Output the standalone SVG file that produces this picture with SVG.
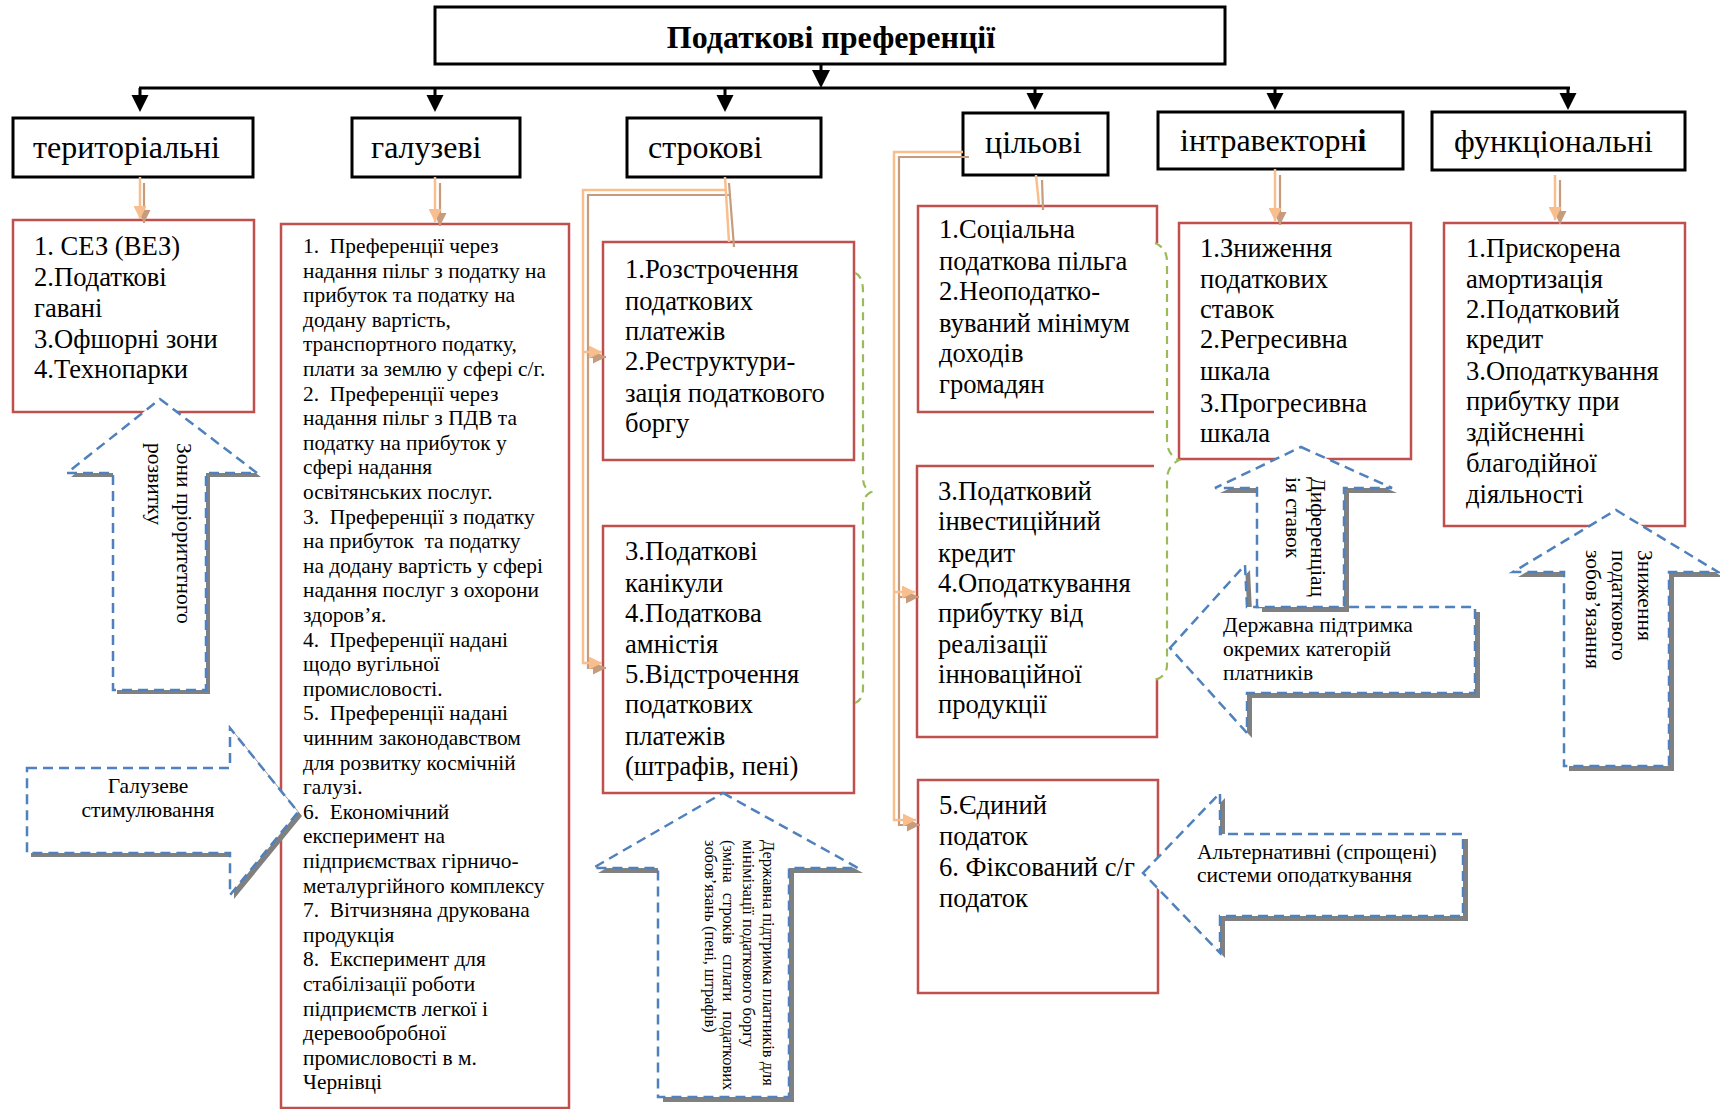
<svg xmlns="http://www.w3.org/2000/svg" width="1720" height="1109" viewBox="0 0 1720 1109">
<style>
text{font-family:"Liberation Serif","Times New Roman",serif;fill:#000}
.hdr{fill:#fff;stroke:#000;stroke-width:3}
.cat{font-size:32px}
.red{fill:#fff;stroke:#C0504D;stroke-width:2.5}
.redp{fill:none;stroke:#C0504D;stroke-width:2.5}
.ct{font-size:26.6px}
.gt{font-size:21.4px}
.lo{fill:none;stroke:#F9BE8E;stroke-width:2.5}
.tn{fill:none;stroke:#C69C7C;stroke-width:2.2}
.blk{fill:none;stroke:#000;stroke-width:3}
.bh{fill:#000}
.brace{fill:none;stroke:#9BBB59;stroke-width:2.2;stroke-dasharray:8,6}
.sh{fill:#808080}
.ba{fill:#fff;stroke:#4F81BD;stroke-width:2.5;stroke-dasharray:10,6}
.at{font-size:21.5px}
.st{font-size:16.4px}
</style>
<defs>
<marker id="mL" viewBox="0 0 10 10" refX="10" refY="5" markerWidth="14" markerHeight="13" markerUnits="userSpaceOnUse" orient="auto"><path d="M0,0L10,5L0,10z" fill="#F9BE8E"/></marker>
<marker id="mT" viewBox="0 0 10 10" refX="10" refY="5" markerWidth="14" markerHeight="13" markerUnits="userSpaceOnUse" orient="auto"><path d="M0,0L10,5L0,10z" fill="#C69C7C"/></marker>
<polygon id="pA" points="160,399 257,473 206,473 206,690 113,690 113,473 67,473"/>
<polygon id="pB" points="27,768 230,768 230,728 298,812 230,895 230,853 27,853"/>
<polygon id="pC" points="723,793 858,868 789,868 789,1097 658,1097 658,868 593,868"/>
<polygon id="pD" points="1301,447 1392,488 1344,488 1344,607 1257,607 1257,488 1215,488"/>
<polygon id="pE" points="1170,648 1245,565 1247,607 1475,607 1475,693 1247,693 1247,733"/>
<polygon id="pF" points="1143,873 1220,793 1220,834 1463,834 1463,916 1220,916 1220,953"/>
<polygon id="pG" points="1616,510 1718,572 1669,572 1669,766 1564,766 1564,572 1513,572"/>
</defs>
<rect width="1720" height="1109" fill="#fff"/>

<g id="root">
<rect class="hdr" x="435" y="7" width="790" height="57"/>
<text x="831" y="48" text-anchor="middle" font-size="32" font-weight="bold">Податкові преференції</text>
</g>

<g id="cat-terr"><rect class="hdr" x="13" y="118" width="240" height="59"/><text class="cat" x="33" y="158">територіальні</text></g>
<g id="cat-galuz"><rect class="hdr" x="352" y="118" width="168" height="59"/><text class="cat" x="371" y="158">галузеві</text></g>
<g id="cat-strok"><rect class="hdr" x="627" y="118" width="194" height="59"/><text class="cat" x="648" y="158">строкові</text></g>
<g id="cat-tsil"><rect class="hdr" x="963" y="113" width="145" height="62"/><text class="cat" x="985" y="153">цільові</text></g>
<g id="cat-intra"><rect class="hdr" x="1158" y="112" width="245" height="57"/><text class="cat" x="1180" y="151">інтравекторн<tspan font-weight="bold">і</tspan></text></g>
<g id="cat-func"><rect class="hdr" x="1432" y="112" width="253" height="58"/><text class="cat" x="1454" y="152">функціональні</text></g>

<g id="box-terr"><rect class="red" x="13" y="220" width="241" height="192"/>
<text class="ct"><tspan x="34" y="255">1. СЕЗ (ВЕЗ)</tspan><tspan x="34" y="286">2.Податкові</tspan><tspan x="34" y="317">гавані</tspan><tspan x="34" y="348">3.Офшорні зони</tspan><tspan x="34" y="378">4.Технопарки</tspan></text></g>

<g id="box-galuz"><rect class="red" x="281" y="224" width="288" height="884"/>
<text class="gt" xml:space="preserve"><tspan x="303" y="253">1.  Преференції через</tspan><tspan x="303" dy="24.6">надання пільг з податку на</tspan><tspan x="303" dy="24.6">прибуток та податку на</tspan><tspan x="303" dy="24.6">додану вартість,</tspan><tspan x="303" dy="24.6">транспортного податку,</tspan><tspan x="303" dy="24.6">плати за землю у сфері с/г.</tspan><tspan x="303" dy="24.6">2.  Преференції через</tspan><tspan x="303" dy="24.6">надання пільг з ПДВ та</tspan><tspan x="303" dy="24.6">податку на прибуток у</tspan><tspan x="303" dy="24.6">сфері надання</tspan><tspan x="303" dy="24.6">освітянських послуг.</tspan><tspan x="303" dy="24.6">3.  Преференції з податку</tspan><tspan x="303" dy="24.6">на прибуток  та податку</tspan><tspan x="303" dy="24.6">на додану вартість у сфері</tspan><tspan x="303" dy="24.6">надання послуг з охорони</tspan><tspan x="303" dy="24.6">здоров’я.</tspan><tspan x="303" dy="24.6">4.  Преференції надані</tspan><tspan x="303" dy="24.6">щодо вугільної</tspan><tspan x="303" dy="24.6">промисловості.</tspan><tspan x="303" dy="24.6">5.  Преференції надані</tspan><tspan x="303" dy="24.6">чинним законодавством</tspan><tspan x="303" dy="24.6">для розвитку космічній</tspan><tspan x="303" dy="24.6">галузі.</tspan><tspan x="303" dy="24.6">6.  Економічний</tspan><tspan x="303" dy="24.6">експеримент на</tspan><tspan x="303" dy="24.6">підприємствах гірничо-</tspan><tspan x="303" dy="24.6">металургійного комплексу</tspan><tspan x="303" dy="24.6">7.  Вітчизняна друкована</tspan><tspan x="303" dy="24.6">продукція</tspan><tspan x="303" dy="24.6">8.  Експеримент для</tspan><tspan x="303" dy="24.6">стабілізації роботи</tspan><tspan x="303" dy="24.6">підприємств легкої і</tspan><tspan x="303" dy="24.6">деревообробної</tspan><tspan x="303" dy="24.6">промисловості в м.</tspan><tspan x="303" dy="24.6">Чернівці</tspan></text></g>

<g id="box-strok1"><rect class="red" x="603" y="242" width="251" height="218"/>
<text class="ct"><tspan x="625" y="278">1.Розстрочення</tspan><tspan x="625" y="310">податкових</tspan><tspan x="625" y="340">платежів</tspan><tspan x="625" y="370">2.Реструктури-</tspan><tspan x="625" y="402">зація податкового</tspan><tspan x="625" y="432">боргу</tspan></text></g>

<g id="box-strok2"><rect class="red" x="603" y="526" width="251" height="267"/>
<text class="ct"><tspan x="625" y="560">3.Податкові</tspan><tspan x="625" y="592">канікули</tspan><tspan x="625" y="622">4.Податкова</tspan><tspan x="625" y="653">амністія</tspan><tspan x="625" y="683">5.Відстрочення</tspan><tspan x="625" y="713">податкових</tspan><tspan x="625" y="745">платежів</tspan><tspan x="625" y="775">(штрафів, пені)</tspan></text></g>

<g id="box-tsil1"><rect x="918" y="206" width="239" height="206" fill="#fff"/><path class="redp" d="M1154,412H918V206H1157V243"/>
<text class="ct"><tspan x="939" y="238">1.Соціальна</tspan><tspan x="939" y="270">податкова пільга</tspan><tspan x="939" y="300">2.Неоподатко-</tspan><tspan x="939" y="332">вуваний мінімум</tspan><tspan x="939" y="362">доходів</tspan><tspan x="939" y="393">громадян</tspan></text></g>

<g id="box-tsil2"><rect x="917" y="466" width="240" height="271" fill="#fff"/><path class="redp" d="M1154,466H917V737H1157V678"/>
<text class="ct"><tspan x="938" y="500">3.Податковий</tspan><tspan x="938" y="530">інвестиційний</tspan><tspan x="938" y="562">кредит</tspan><tspan x="938" y="592">4.Оподаткування</tspan><tspan x="938" y="622">прибутку від</tspan><tspan x="938" y="653">реалізації</tspan><tspan x="938" y="683">інноваційної</tspan><tspan x="938" y="713">продукції</tspan></text></g>

<g id="box-tsil3"><rect class="red" x="918" y="780" width="240" height="213"/>
<text class="ct"><tspan x="939" y="814">5.Єдиний</tspan><tspan x="939" y="845">податок</tspan><tspan x="939" y="876">6. Фіксований с/г</tspan><tspan x="939" y="907">податок</tspan></text></g>

<g id="box-intra"><rect class="red" x="1179" y="223" width="232" height="236"/>
<text class="ct"><tspan x="1200" y="257">1.Зниження</tspan><tspan x="1200" y="288">податкових</tspan><tspan x="1200" y="318">ставок</tspan><tspan x="1200" y="348">2.Регресивна</tspan><tspan x="1200" y="380">шкала</tspan><tspan x="1200" y="412">3.Прогресивна</tspan><tspan x="1200" y="442">шкала</tspan></text></g>

<g id="box-func"><rect class="red" x="1444" y="223" width="241" height="303"/>
<text class="ct"><tspan x="1466" y="257">1.Прискорена</tspan><tspan x="1466" y="288">амортизація</tspan><tspan x="1466" y="318">2.Податковий</tspan><tspan x="1466" y="348">кредит</tspan><tspan x="1466" y="380">3.Оподаткування</tspan><tspan x="1466" y="410">прибутку при</tspan><tspan x="1466" y="441">здійсненні</tspan><tspan x="1466" y="472">благодійної</tspan><tspan x="1466" y="503">діяльності</tspan></text></g>

<g id="connectors">
<path class="blk" d="M821,64V70M139,88H1570M140,88V95M435,88V95M725,88V95M1035,88V93M1275,88V93M1568,88V93"/>
<polygon class="bh" points="812,70 830,70 821,88"/>
<polygon class="bh" points="131.5,95 148.5,95 140,112"/>
<polygon class="bh" points="426.5,95 443.5,95 435,112"/>
<polygon class="bh" points="716.5,95 733.5,95 725,112"/>
<polygon class="bh" points="1026.5,93 1043.5,93 1035,110"/>
<polygon class="bh" points="1266.5,93 1283.5,93 1275,110"/>
<polygon class="bh" points="1559.5,93 1576.5,93 1568,110"/>

<path class="tn" d="M144,183V223" marker-end="url(#mT)"/>
<path class="lo" d="M140,177V219" marker-end="url(#mL)"/>
<path class="tn" d="M440,183V226" marker-end="url(#mT)"/>
<path class="lo" d="M435,177V222" marker-end="url(#mL)"/>
<path class="tn" d="M729,183L734,247M729,195H588V668H606" marker-end="url(#mT)"/>
<path class="tn" d="M588,357H606" marker-end="url(#mT)"/>
<path class="lo" d="M725,177L729,242M726,190H583V663H602" marker-end="url(#mL)"/>
<path class="lo" d="M583,352H602" marker-end="url(#mL)"/>
<path class="tn" d="M969,157H899V825H920" marker-end="url(#mT)"/>
<path class="tn" d="M899,597H919" marker-end="url(#mT)"/>
<path class="lo" d="M963,152H894V820H916" marker-end="url(#mL)"/>
<path class="lo" d="M894,592H915" marker-end="url(#mL)"/>
<path class="tn" d="M1042,180L1043,210"/>
<path class="lo" d="M1036,175L1039,205"/>
<path class="tn" d="M1280,175V225" marker-end="url(#mT)"/>
<path class="lo" d="M1275,169V221" marker-end="url(#mL)"/>
<path class="tn" d="M1560,180V224" marker-end="url(#mT)"/>
<path class="lo" d="M1555,175V220" marker-end="url(#mL)"/>
<path class="brace" d="M855,273Q863,276 863,292V478Q863,488 871,492Q863,496 863,506V688Q863,700 855,703"/>
<path class="brace" d="M1155,243Q1167,248 1167,262V440Q1167,455 1179,460Q1167,466 1167,480V665Q1167,676 1155,680"/>
</g>

<g id="arrow-zones">
<use class="sh" href="#pA" transform="translate(4,4)"/><use class="ba" href="#pA"/>
<text class="at" transform="translate(177,443) rotate(90)">Зони пріоритетного</text>
<text class="at" transform="translate(148,443) rotate(90)">розвитку</text>
</g>
<g id="arrow-galuz">
<use class="sh" href="#pB" transform="translate(4,4)"/><use class="ba" href="#pB"/>
<text class="at" text-anchor="middle"><tspan x="148" y="793">Галузеве</tspan><tspan x="148" y="817">стимулювання</tspan></text>
</g>
<g id="arrow-strok">
<use class="sh" href="#pC" transform="translate(5,5)"/><use class="ba" href="#pC"/>
<text class="st" transform="translate(763,840) rotate(90)">Державна підтримка платників для</text>
<text class="st" transform="translate(743,840) rotate(90)">мінімізації податкового боргу</text>
<text class="st" transform="translate(723,840) rotate(90)" word-spacing="6">(зміна строків сплати податкових</text>
<text class="st" transform="translate(705,840) rotate(90)">зобов’язань (пені, штрафів)</text>
</g>
<g id="arrow-support">
<use class="sh" href="#pE" transform="translate(5,5)"/><use class="ba" href="#pE"/>
<text class="at"><tspan x="1223" y="632">Державна підтримка</tspan><tspan x="1223" y="656">окремих категорій</tspan><tspan x="1223" y="680">платників</tspan></text>
</g>
<g id="arrow-diff">
<use class="sh" href="#pD" transform="translate(5,5)"/><use class="ba" href="#pD"/>
<text class="at" transform="translate(1311,477) rotate(90)">Диференціац</text>
<text class="at" transform="translate(1286,477) rotate(90)">ія ставок</text>
</g>
<g id="arrow-alt">
<use class="sh" href="#pF" transform="translate(5,5)"/><use class="ba" href="#pF"/>
<text class="at"><tspan x="1197" y="859">Альтернативні (спрощені)</tspan><tspan x="1197" y="882">системи оподаткування</tspan></text>
</g>
<g id="arrow-reduce">
<use class="sh" href="#pG" transform="translate(5,5)"/><use class="ba" href="#pG"/>
<text class="at" transform="translate(1638,550) rotate(90)">Зниження</text>
<text class="at" transform="translate(1612,550) rotate(90)">податкового</text>
<text class="at" transform="translate(1586,550) rotate(90)">зобов’язання</text>
</g>
</svg>
